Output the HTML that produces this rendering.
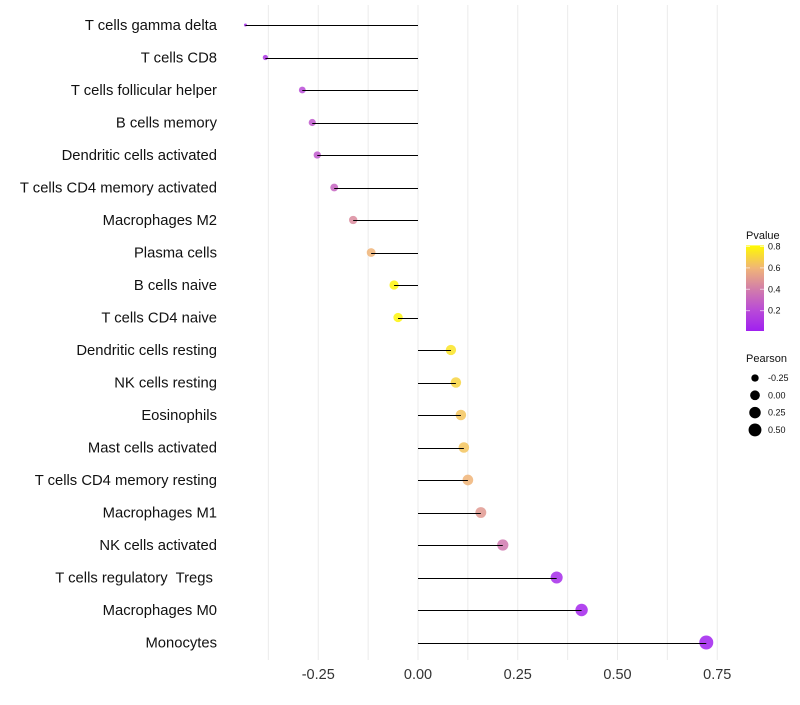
<!DOCTYPE html>
<html><head><meta charset="utf-8"><style>
body{margin:0;background:#fff;font-family:"Liberation Sans",sans-serif}
svg text{font-family:"Liberation Sans",sans-serif;white-space:pre}
</style></head><body>
<svg id="chart" width="800" height="700"></svg>
<script>
const categories=["T cells gamma delta","T cells CD8","T cells follicular helper","B cells memory","Dendritic cells activated","T cells CD4 memory activated","Macrophages M2","Plasma cells","B cells naive","T cells CD4 naive","Dendritic cells resting","NK cells resting","Eosinophils","Mast cells activated","T cells CD4 memory resting","Macrophages M1","NK cells activated","T cells regulatory  Tregs ","Macrophages M0","Monocytes"];
const pearson=[-0.4325,-0.3825,-0.29,-0.265,-0.2525,-0.21,-0.1625,-0.1175,-0.06,-0.05,0.0825,0.095,0.1075,0.115,0.125,0.1575,0.2125,0.3475,0.41,0.7225];
const pvalues=[0.05,0.1,0.2,0.25,0.25,0.3,0.45,0.6,0.8,0.8,0.75,0.7,0.65,0.65,0.6,0.5,0.38,0.05,0.03,0.01];
const xTicks=[-0.25,0,0.25,0.5,0.75];
const xTickLabels=["-0.25","0.00","0.25","0.50","0.75"];
const legendP=[0.2,0.4,0.6,0.8];
const legendPearson=[-0.25,0,0.25,0.5];
const legendPearsonLabels=["-0.25","0.00","0.25","0.50"];

const NS="http://www.w3.org/2000/svg";
const svg=document.getElementById('chart');
const x=v=>418+v*399;
const y=i=>25+i*32.5;
const r=v=>1.5+Math.sqrt(Math.max(0,(v+0.4325)/1.155))*5.5;
const stops=[[0,[160,32,240]],[0.2,[185,75,215]],[0.4,[210,125,170]],[0.6,[240,180,120]],[0.82,[255,250,0]]];
function col(p){
  if(p<=stops[0][0])return 'rgb('+stops[0][1]+')';
  for(let k=1;k<stops.length;k++){if(p<=stops[k][0]){const a=stops[k-1],b=stops[k],t=(p-a[0])/(b[0]-a[0]);return 'rgb('+a[1].map((c,j)=>Math.round(c+(b[1][j]-c)*t)).join(',')+')';}}
  return 'rgb('+stops[stops.length-1][1]+')';
}
function mk(tag,attrs,parent){const e=document.createElementNS(NS,tag);for(const k in attrs)e.setAttribute(k,attrs[k]);(parent||svg).appendChild(e);return e;}

[-0.375,-0.25,-0.125,0,0.125,0.25,0.375,0.5,0.625,0.75].forEach(v=>{
  const g=mk('line',{x1:x(v),x2:x(v),y1:5,y2:660,stroke:'#ebebeb','stroke-width':1});
  
  
});
xTicks.forEach((v,i)=>{
  const t=mk('text',{x:x(v),y:679,'text-anchor':'middle','font-size':14.5,fill:'#333'});
  t.textContent=xTickLabels[i];
  
  
});
categories.forEach((c,i)=>{
  const t=mk('text',{x:217,y:y(i)+5,'text-anchor':'end','font-size':14.8,fill:'#111'});
  t.textContent=c;
  
  
  const d=mk('circle',{cx:x(pearson[i]),cy:y(i),r:r(pearson[i]),fill:col(pvalues[i]),'fill-opacity':0.85});
  
  
  const l=mk('line',{x1:x(0),x2:x(pearson[i]),y1:Math.round(y(i))+0.5,y2:Math.round(y(i))+0.5,stroke:'#000','stroke-width':1});
  
  
});
const defs=mk('defs',{});
const lg=mk('linearGradient',{id:'pg',x1:0,y1:1,x2:0,y2:0},defs);
stops.forEach(s=>mk('stop',{offset:(s[0]/0.82),'stop-color':'rgb('+s[1]+')'},lg));
const lt=mk('text',{x:746,y:239,'font-size':11,fill:'#111'});lt.textContent='Pvalue';


const pb=(p)=>331-(p-0.01)*107;
const bar=mk('rect',{x:746,y:pb(0.81),width:18,height:pb(0.01)-pb(0.81),fill:'url(#pg)'});


legendP.forEach(p=>{
  mk('line',{x1:746,x2:750,y1:pb(p),y2:pb(p),stroke:'#fff','stroke-opacity':0.6});
  mk('line',{x1:760,x2:764,y1:pb(p),y2:pb(p),stroke:'#fff','stroke-opacity':0.6});
  const t=mk('text',{x:768,y:pb(p)+3,'font-size':9,fill:'#111'});t.textContent=p.toFixed(1);
  
  
});
const pt=mk('text',{x:746,y:362,'font-size':11,fill:'#111'});pt.textContent='Pearson';


legendPearson.forEach((v,i)=>{
  const cy=378+i*17.3;
  const c=mk('circle',{cx:755,cy:cy,r:r(v),fill:'#000'});
  
  
  const t=mk('text',{x:768,y:cy+3,'font-size':9,fill:'#111'});t.textContent=legendPearsonLabels[i];
  
  
});
</script>
</body></html>
